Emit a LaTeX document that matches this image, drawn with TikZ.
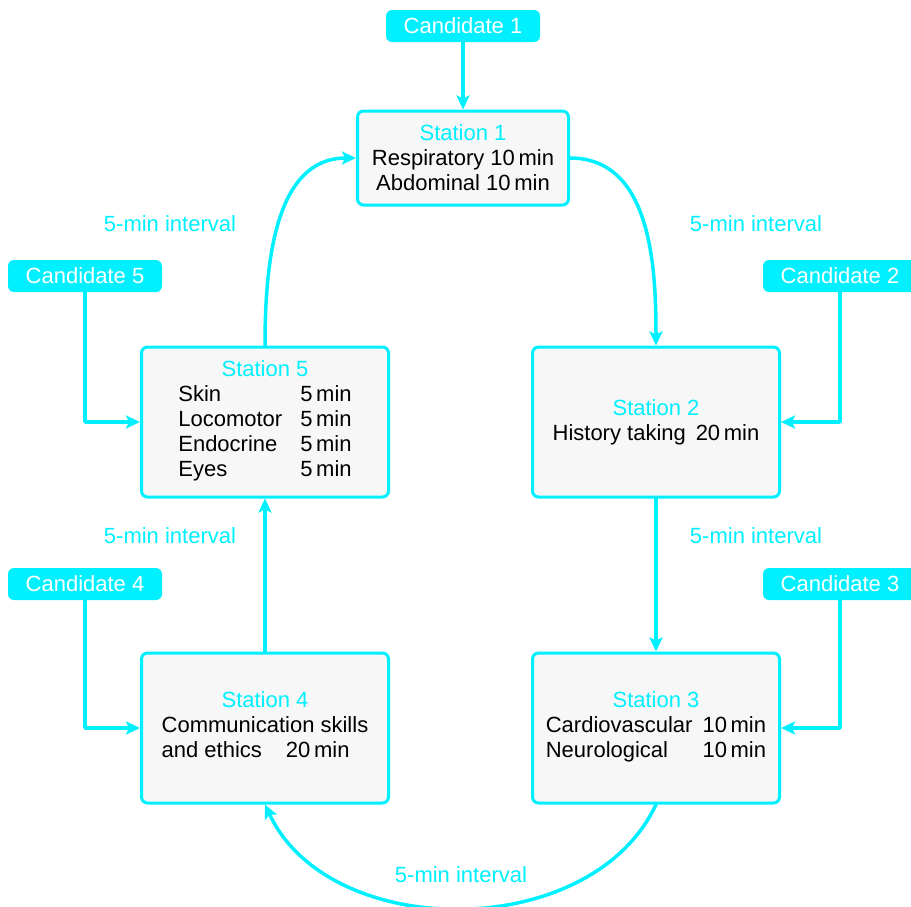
\documentclass[tikz,border=0pt]{standalone}
\usepackage{fontspec}
\setmainfont{Liberation Sans}
\usetikzlibrary{arrows.meta}
\definecolor{oscecyan}{RGB}{0,240,255}
\definecolor{boxgray}{RGB}{247,247,247}
\tikzset{
	station/.style={draw=oscecyan, fill=boxgray, rounded corners=6pt, line width=3pt, minimum width=247pt, minimum height=150pt, align=center, inner sep=0pt},
	candidate/.style={fill=oscecyan, text=white, rounded corners=6pt, minimum width=154pt, minimum height=32pt, inner sep=0pt},
	flow/.style={draw=oscecyan, line width=3.5pt, ->},
	gaplabel/.style={text=oscecyan},
}
\newcommand{\sttitle}[1]{\textcolor{oscecyan}{#1}}
\begin{document}
\begin{tikzpicture}[x=1pt, y=-1pt, font=\fontsize{22}{25}\selectfont, line join=round, line cap=round, >={Stealth[length=14pt,width=13pt,inset=3pt]}]
	\useasboundingbox (0,0) rectangle (911,906);
	% stations
	\node[station, minimum width=211pt, minimum height=94pt] (s1) at (463,158) {\sttitle{Station 1}\\Respiratory 10\,min\\Abdominal 10\,min};
	\node[station] (s2) at (656,422) {\sttitle{Station 2}\\History taking\hspace{0.45em}20\,min};
	\node[station] (s3) at (656,728) {\sttitle{Station 3}\\\begin{tabular}[t]{@{}l@{\hspace{10pt}}l@{}}Cardiovascular & 10\,min\\Neurological & 10\,min\end{tabular}};
	\node[station] (s4) at (265,728) {\sttitle{Station 4}\\\begin{tabular}[t]{@{}l@{}}Communication skills\\and ethics\hspace{24pt}20\,min\end{tabular}};
	\node[station] (s5) at (265,422) {\sttitle{Station 5}\\\begin{tabular}[t]{@{}l@{\hspace{18pt}}l@{}}Skin & 5\,min\\Locomotor & 5\,min\\Endocrine & 5\,min\\Eyes & 5\,min\end{tabular}};
	% candidates
	\node[candidate] (c1) at (463,26) {Candidate 1};
	\node[candidate] (c2) at (840,276) {Candidate 2};
	\node[candidate] (c3) at (840,584) {Candidate 3};
	\node[candidate] (c4) at (85,584) {Candidate 4};
	\node[candidate] (c5) at (85,276) {Candidate 5};
	% rotation
	\draw[flow] (s1.east) to[out=0, in=90] (s2.north);
	\draw[flow] (s2.south) -- (s3.north);
	\draw[flow] (s3.south) to[out=-115, in=-65] (s4.south);
	\draw[flow] (s4.north) -- (s5.south);
	\draw[flow] (s5.north) to[out=90, in=180] (s1.west);
	% entries
	\draw[flow] (c1.south) -- (s1.north);
	\draw[flow] (c2.south) |- (s2.east);
	\draw[flow] (c3.south) |- (s3.east);
	\draw[flow] (c4.south) |- (s4.west);
	\draw[flow] (c5.south) |- (s5.west);
	% intervals
	\node[gaplabel] (g1) at (756,224) {5-min interval};
	\node[gaplabel] (g2) at (756,536) {5-min interval};
	\node[gaplabel] (g3) at (461,875) {5-min interval};
	\node[gaplabel] (g4) at (170,536) {5-min interval};
	\node[gaplabel] (g5) at (170,224) {5-min interval};
\end{tikzpicture}
\end{document}
